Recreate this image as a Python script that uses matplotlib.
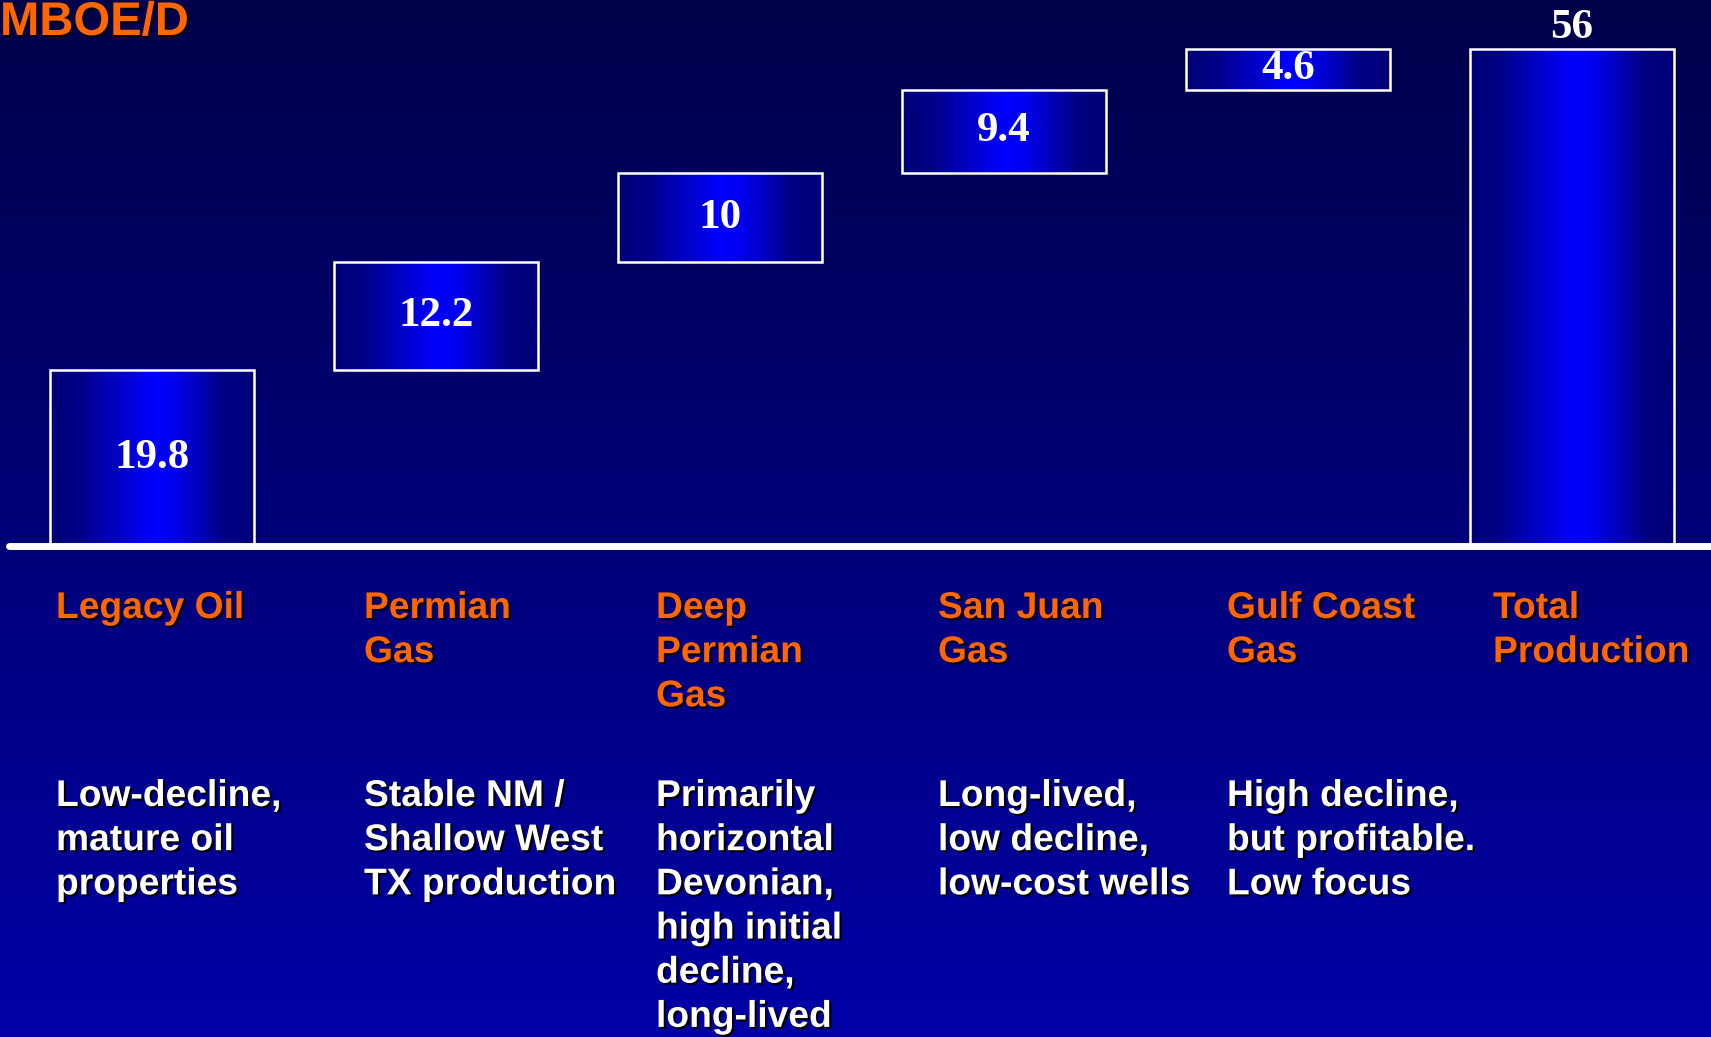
import numpy as np
import matplotlib.pyplot as plt
import matplotlib.patheffects as pe
from matplotlib.colors import LinearSegmentedColormap

# Production build-up by asset, MBOE/D
segments = ["Legacy Oil", "Permian\nGas", "Deep\nPermian\nGas", "San Juan\nGas",
            "Gulf Coast\nGas", "Total\nProduction"]
values = [19.8, 12.2, 10, 9.4, 4.6, 56]
value_text = ["19.8", "12.2", "10", "9.4", "4.6", "56"]
notes = ["Low-decline,\nmature oil\nproperties",
         "Stable NM /\nShallow West\nTX production",
         "Primarily\nhorizontal\nDevonian,\nhigh initial\ndecline,\nlong-lived",
         "Long-lived,\nlow decline,\nlow-cost wells",
         "High decline,\nbut profitable.\nLow focus",
         ""]

W, H = 1711, 1037
fig = plt.figure(figsize=(W / 100, H / 100), dpi=100)
ax = fig.add_axes([0, 0, 1, 1])
xlim = (-0.535, 5.489)
ylim = (-55.3, 61.5)
ax.set_xlim(*xlim)
ax.set_ylim(*ylim)
ax.axis("off")

# slide background: dark navy at top fading to brighter blue at bottom
bg = LinearSegmentedColormap.from_list("bg", ["#0000a6", "#00004a"])
ax.imshow(np.linspace(0, 1, 256).reshape(-1, 1), cmap=bg, origin="lower",
          extent=[*xlim, *ylim], aspect="auto", zorder=0)

# waterfall bottoms: each piece stacks on the previous ones, total starts at 0
bottoms = list(np.concatenate([[0], np.cumsum(values[:-2])])) + [0]
x = np.arange(len(values))
bars = ax.bar(x, values, width=0.72, bottom=bottoms, facecolor="none",
              edgecolor="white", linewidth=1.8, zorder=3)

barcmap = LinearSegmentedColormap.from_list(
    "bar", [(0, "#000078"), (0.15, "#000088"), (0.5, "#0000ff"),
            (0.6, "#0000f0"), (0.85, "#000084"), (1, "#000078")])
grad = np.linspace(0, 1, 256).reshape(1, -1)
for b in bars:
    x0, y0 = b.get_x(), b.get_y()
    im = ax.imshow(grad, cmap=barcmap, extent=[x0, x0 + b.get_width(), y0, y0 + b.get_height()],
                   aspect="auto", zorder=2)
    im.set_clip_path(b)

ax.plot([xlim[0] + 9 / 284, xlim[1] + 1], [0, 0], color="white", lw=5,
        solid_capstyle="round", zorder=4)

serif = dict(family="Liberation Serif", weight="bold", color="white", fontsize=31)
for i, (b, t) in enumerate(zip(bars, value_text)):
    cx = b.get_x() + b.get_width() / 2
    if i == len(values) - 1:
        ax.annotate(t, (cx, b.get_y() + b.get_height()), xytext=(0, 15),
                    textcoords="offset points", ha="center", va="center", zorder=5, **serif)
    else:
        ax.text(cx, b.get_y() + b.get_height() / 2, t, ha="center", va="center",
                zorder=5, **serif)

shadow = [pe.withSimplePatchShadow(offset=(1.5, -1.5), shadow_rgbFace="black", alpha=1.0)]
sans = dict(family="Liberation Sans", weight="bold", fontsize=26.8, linespacing=1.34,
            path_effects=shadow)

label_x = [56, 364, 656, 938, 1227, 1493]
for lx, s, n in zip(label_x, segments, notes):
    fig.text(lx / W, 1 - 591 / H, s, color="#ff6600", ha="left", va="top", **sans)
    if n:
        fig.text(lx / W, 1 - 779 / H, n, color="white", ha="left", va="top", **sans)

fig.text(0, 1 - 35 / H, "MBOE/D", color="#ff6600", family="Liberation Sans",
         weight="bold", fontsize=34, ha="left", va="baseline", path_effects=shadow)

fig.savefig("out.png", dpi=100)
